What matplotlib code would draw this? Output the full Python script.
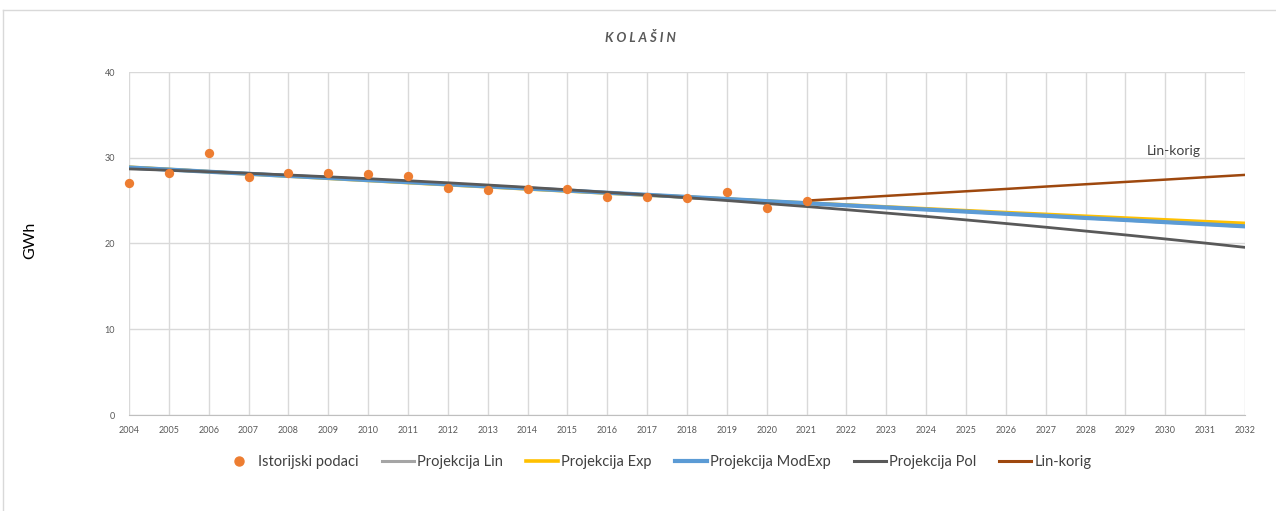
import matplotlib
matplotlib.use("Agg")
import matplotlib.pyplot as plt
from matplotlib.lines import Line2D

plt.rcParams['font.family'] = ['Lato', 'DejaVu Sans']

years = list(range(2004, 2033))
hist_years = list(range(2004, 2022))
hist_values = [27.06, 28.2, 30.55, 27.75, 28.2, 28.2, 28.1, 27.9, 26.5, 26.2,
               26.35, 26.35, 25.4, 25.4, 25.3, 26.0, 24.1, 24.95]

proj_lin = [28.90, 28.65, 28.41, 28.16, 27.91, 27.67, 27.42, 27.17, 26.93, 26.68,
            26.43, 26.19, 25.94, 25.69, 25.45, 25.20, 24.95, 24.70, 24.46, 24.21,
            23.96, 23.72, 23.47, 23.22, 22.98, 22.73, 22.48, 22.24, 21.99]
proj_exp = [28.90, 28.64, 28.37, 28.11, 27.86, 27.60, 27.35, 27.10, 26.85, 26.61,
            26.36, 26.12, 25.88, 25.65, 25.41, 25.18, 24.95, 24.72, 24.50, 24.27,
            24.05, 23.83, 23.61, 23.40, 23.18, 22.97, 22.76, 22.55, 22.35]
proj_modexp = [28.86, 28.62, 28.37, 28.13, 27.88, 27.64, 27.39, 27.15, 26.90, 26.66,
               26.41, 26.17, 25.92, 25.68, 25.43, 25.19, 24.94, 24.70, 24.45, 24.21,
               23.96, 23.72, 23.47, 23.23, 22.98, 22.74, 22.49, 22.25, 22.00]
proj_pol = [28.70, 28.54, 28.37, 28.19, 27.99, 27.78, 27.56, 27.32, 27.08, 26.82,
            26.55, 26.27, 25.97, 25.66, 25.34, 25.01, 24.66, 24.31, 23.94, 23.55,
            23.16, 22.75, 22.33, 21.90, 21.45, 21.00, 20.53, 20.05, 19.55]
korig_years = list(range(2021, 2033))
lin_korig = [25.00, 25.27, 25.55, 25.82, 26.09, 26.36, 26.64, 26.91, 27.18, 27.45,
             27.73, 28.00]

title = "K O L A Š I N"
ylabel = "GWh"
legend_labels = ["Istorijski podaci", "Projekcija Lin", "Projekcija Exp",
                 "Projekcija ModExp", "Projekcija Pol", "Lin-korig"]

c_hist = "#ED7D31"
c_lin = "#A5A5A5"
c_exp = "#FFC000"
c_mod = "#5B9BD5"
c_pol = "#595959"
c_kor = "#9E480E"

fig = plt.figure(figsize=(12.76, 5.11), dpi=100)
ax = fig.add_axes([129/1276, 1-415/511, (1245-129)/1276, (415-72)/511])

# chart frame
fig.add_artist(Line2D([3/1276, 1], [1-10/511, 1-10/511], transform=fig.transFigure,
                      color="#d9d9d9", lw=1))
fig.add_artist(Line2D([3/1276, 3/1276], [0, 1-10/511], transform=fig.transFigure,
                      color="#d9d9d9", lw=1))

ax.plot(years, proj_lin, color=c_lin, lw=2.2, zorder=3)
ax.plot(years, proj_exp, color=c_exp, lw=2.6, zorder=3)
ax.plot(years, proj_modexp, color=c_mod, lw=3.0, zorder=4)
ax.plot(years, proj_pol, color=c_pol, lw=2.0, zorder=5)
ax.plot(korig_years, lin_korig, color=c_kor, lw=1.8, zorder=5)
ax.scatter(hist_years, hist_values, s=45, color=c_hist, zorder=6, linewidths=0,
           clip_on=False)

ax.text(2030.2, 30.8, "Lin-korig", fontsize=10, color="#404040", ha="center", va="center")

ax.set_xlim(2004, 2032)
ax.set_ylim(0, 40)
ax.set_xticks(years)
ax.set_xticklabels([str(y) for y in years], fontsize=6.5, color="#595959")
ax.set_yticks([0, 10, 20, 30, 40])
ax.set_yticklabels(["0", "10", "20", "30", "40"], fontsize=6.5, color="#595959")
ax.tick_params(length=0, pad=10)
ax.tick_params(axis='x', pad=8)
ax.grid(True, color="#d9d9d9", lw=1)
ax.set_axisbelow(True)
for s in ["top", "right", "left"]:
    ax.spines[s].set_visible(False)
ax.spines["bottom"].set_color("#bfbfbf")

fig.text(640/1276, 1-38/511, title, fontsize=9.5, fontstyle="italic", fontweight="bold",
         color="#595959", ha="center", va="center")
fig.text(30/1276, 1-240/511, ylabel, fontsize=11.5, rotation=90, color="#000000",
         ha="center", va="center")

handles = [
    Line2D([], [], marker="o", color=c_hist, linestyle="none", markersize=6.5),
    Line2D([], [], color=c_lin, lw=2.2),
    Line2D([], [], color=c_exp, lw=2.6),
    Line2D([], [], color=c_mod, lw=3.0),
    Line2D([], [], color=c_pol, lw=2.2),
    Line2D([], [], color=c_kor, lw=2.2),
]
fig.legend(handles, legend_labels, loc="center", bbox_to_anchor=(657/1276, 1-462/511),
           ncol=6, frameon=False, fontsize=10.5, handlelength=2.2, handletextpad=0.2,
           columnspacing=1.6, labelcolor="#404040")

fig.savefig("out.png", dpi=100)
